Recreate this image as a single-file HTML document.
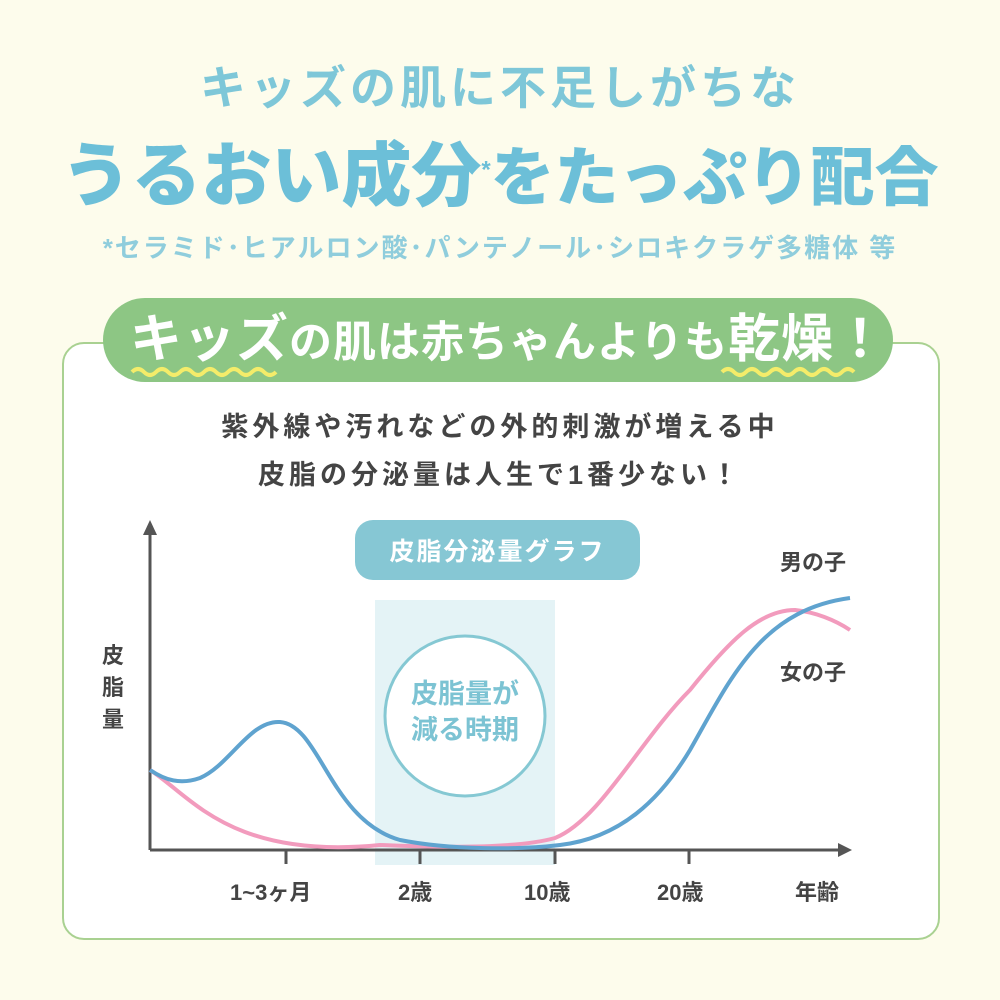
<!DOCTYPE html>
<html><head><meta charset="utf-8"><style>
body{margin:0;width:1000px;height:1000px;background:#fdfcec;font-family:"Liberation Sans","Noto Sans CJK JP",sans-serif;position:relative;overflow:hidden}
.a{position:absolute;white-space:nowrap}
</style></head><body>
<div class="a" style="left:0;width:1000px;top:52px;text-align:center;font-size:46px;font-weight:bold;color:#7ec7d8;letter-spacing:4px">キッズの肌に不足しがちな</div>
<div class="a" style="left:0;width:1000px;top:120px;text-align:center;font-size:64px;font-weight:900;color:#6cbfd8;letter-spacing:0px"><span style="font-size:70px">うるおい成分</span><sup style="font-size:24px">*</sup>をたっぷり配合</div>
<div class="a" style="left:0;width:1000px;top:228px;text-align:center;font-size:26px;font-weight:bold;color:#8fcddc;letter-spacing:2px">*セラミド･ヒアルロン酸･パンテノール･シロキクラゲ多糖体 等</div>
<div class="a" style="left:62px;top:342px;width:874px;height:594px;background:#fff;border:2px solid #a9d191;border-radius:22px"></div>
<div class="a" style="left:103px;top:298px;width:790px;height:84px;background:#8dc684;border-radius:42px"></div>
<div class="a" style="left:130px;top:305px;font-size:43px;font-weight:bold;color:#fff;letter-spacing:1px;line-height:70px"><span style="font-size:52px">キッズ</span>の肌は赤ちゃんよりも<span style="font-size:52px">乾燥！</span></div>
<svg class="a" style="left:0;top:0" width="1000" height="1000">
<path d="M132 372 q6-6 12 0 t12 0 t12 0 t12 0 t12 0 t12 0 t12 0 t12 0 t12 0 t12 0 t12 0 t12 0" stroke="#f4ec6a" stroke-width="4" fill="none"/>
<path d="M722 372 q6-6 12 0 t12 0 t12 0 t12 0 t12 0 t12 0 t12 0 t12 0 t12 0 t12 0 t12 0" stroke="#f4ec6a" stroke-width="4" fill="none"/>
<rect x="375" y="600" width="180" height="265" fill="#e4f3f6"/>
<circle cx="465" cy="716" r="80" fill="#fff" stroke="#85c8d3" stroke-width="3"/>
<rect x="355" y="520" width="285" height="60" rx="18" fill="#86c7d4"/>
<line x1="150" y1="850" x2="150" y2="530" stroke="#555" stroke-width="3"/>
<polygon points="150,520 143,535 157,535" fill="#555"/>
<line x1="150" y1="850" x2="842" y2="850" stroke="#555" stroke-width="3"/>
<polygon points="852,850 838,843 838,857" fill="#555"/>
<g stroke="#555" stroke-width="3"><line x1="286" y1="850" x2="286" y2="864"/><line x1="420" y1="850" x2="420" y2="864"/><line x1="555" y1="850" x2="555" y2="864"/><line x1="689" y1="850" x2="689" y2="864"/></g>
<path d="M150 770 C190 795 230 860 380 845 C450 848 520 848 555 838 C600 820 640 740 690 690 C730 640 760 610 795 610 C815 612 835 620 850 630" stroke="#f29bbd" stroke-width="4" fill="none"/>
<path d="M150 770 C165 780 180 785 200 778 C230 765 250 720 280 722 C320 725 330 820 400 840 C450 850 520 850 560 845 C620 838 660 800 690 750 C730 680 760 610 850 598" stroke="#5fa3cf" stroke-width="4" fill="none"/>
</svg>
<div class="a" style="left:0;width:1000px;top:403px;text-align:center;font-size:27px;font-weight:bold;color:#444;line-height:48px;letter-spacing:4px">紫外線や汚れなどの外的刺激が増える中<br>皮脂の分泌量は人生で1番少ない！</div>
<div class="a" style="left:355px;width:285px;top:532px;text-align:center;font-size:25px;font-weight:bold;color:#fff;letter-spacing:2px">皮脂分泌量グラフ</div>
<div class="a" style="left:385px;width:160px;top:676px;text-align:center;font-size:27px;font-weight:bold;color:#7cc3d3;line-height:36px">皮脂量が<br>減る時期</div>
<div class="a" style="left:102px;top:640px;font-size:22px;font-weight:bold;color:#444;line-height:32px;width:30px">皮<br>脂<br>量</div>
<div class="a" style="left:780px;top:545px;font-size:22px;font-weight:bold;color:#444">男の子</div>
<div class="a" style="left:780px;top:655px;font-size:22px;font-weight:bold;color:#444">女の子</div>
<div class="a" style="left:230px;top:875px;font-size:22px;color:#444;font-weight:bold">1~3ヶ月</div>
<div class="a" style="left:398px;top:875px;font-size:22px;color:#444;font-weight:bold">2歳</div>
<div class="a" style="left:524px;top:875px;font-size:22px;color:#444;font-weight:bold">10歳</div>
<div class="a" style="left:657px;top:875px;font-size:22px;color:#444;font-weight:bold">20歳</div>
<div class="a" style="left:795px;top:875px;font-size:22px;color:#444;font-weight:bold">年齢</div>
</body></html>
